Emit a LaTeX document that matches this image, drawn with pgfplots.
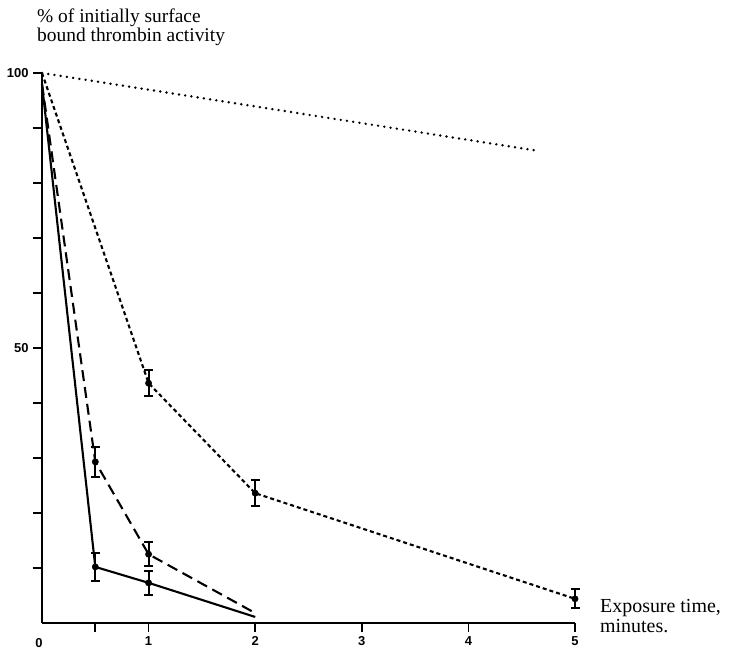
\documentclass[border=0pt]{standalone}
\usepackage{fontspec}
\setmainfont{Liberation Serif}
\newfontfamily\tickfont{Liberation Sans}
\usepackage{pgfplots}
\pgfplotsset{compat=1.18}
\begin{document}
\begin{tikzpicture}
\useasboundingbox (-42bp,-32bp) rectangle (688bp,623bp);
\begin{axis}[
  at={(0,0)}, anchor=south west,
  scale only axis, width=533bp, height=550bp,
  xmin=0, xmax=5, ymin=0, ymax=100,
  axis lines=left,
  axis line style={-, line width=2bp},
  xtick={0.5,1,2,3,4,5}, xticklabels={,1,2,3,4,5},
  ytick={10,20,30,40,50,60,70,80,90,100},
  yticklabels={,,,,50,,,,,100},
  tick align=outside, major tick length=9bp,
  tick style={line width=1.7bp, black},
  tick label style={font=\tickfont\bfseries\fontsize{13}{14}\selectfont},
  /pgf/number format/assume math mode=true,
  xticklabel style={yshift=-1bp},
  yticklabel style={xshift=-1bp},
  clip=false,
]
% fine dotted series
\addplot[black, line width=2.7bp, dash pattern=on 0bp off 6.3bp, line cap=round]
  coordinates {(0,100) (4.67,85.8)};
% short dashed series
\addplot[black, line width=2.1bp, dash pattern=on 4bp off 3bp]
  coordinates {(0,100) (1,43.6) (2,23.6) (5,4.4)};
\addplot[black, only marks, mark=*, mark size=3.2bp,
  error bars/.cd, y dir=both, y explicit,
  error bar style={line width=2bp, solid},
  error mark options={rotate=90, mark size=4.5bp, line width=2bp, solid}]
  coordinates {(1,43.6) +- (0,2.4) (2,23.6) +- (0,2.4) (5,4.4) +- (0,1.7)};
% long dashed series
\addplot[black, line width=2.1bp, dash pattern=on 11bp off 6bp]
  coordinates {(0,98) (0.5,29.3) (1,12.5) (2,1.8)};
\addplot[black, only marks, mark=*, mark size=3.2bp,
  error bars/.cd, y dir=both, y explicit,
  error bar style={line width=2bp, solid},
  error mark options={rotate=90, mark size=4.5bp, line width=2bp, solid}]
  coordinates {(0.5,29.3) +- (0,2.7) (1,12.5) +- (0,2.2)};
% solid series
\addplot[black, line width=2.1bp]
  coordinates {(0,98) (0.5,10.2) (1,7.3) (2,1.1)};
\addplot[black, only marks, mark=*, mark size=3.2bp,
  error bars/.cd, y dir=both, y explicit,
  error bar style={line width=2bp, solid},
  error mark options={rotate=90, mark size=4.5bp, line width=2bp, solid}]
  coordinates {(0.5,10.2) +- (0,2.6) (1,7.3) +- (0,2.2)};
\end{axis}
\node[anchor=center, font=\tickfont\bfseries\fontsize{13}{14}\selectfont] at (-3bp,-20bp) {0};
\node[anchor=north west, align=left, inner sep=0pt, font=\fontsize{19.5}{19}\selectfont] at (-5bp,614bp)
  {\% of initially surface\\bound thrombin activity};
\node[anchor=base west, inner sep=0pt, font=\fontsize{20}{19}\selectfont] at (558bp,11bp) {Exposure time,};
\node[anchor=base west, inner sep=0pt, font=\fontsize{20}{19}\selectfont] at (558bp,-9bp) {minutes.};
\end{tikzpicture}
\end{document}
